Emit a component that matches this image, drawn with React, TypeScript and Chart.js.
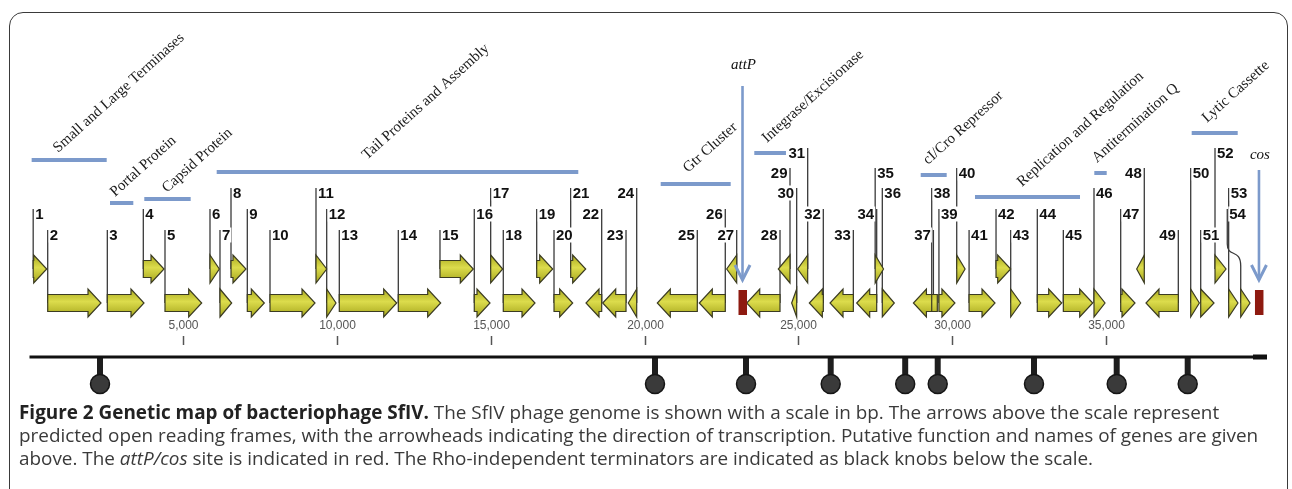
import React, { useEffect, useRef } from "react";
import { Chart, registerables } from "chart.js";
Chart.register(...registerables);

// ---------- DATA (bp positions) ----------
const GENE_IDS = [
  1, 2, 3, 4, 5, 6, 7, 8, 9, 10, 11, 12, 13, 14, 15, 16, 17, 18, 19, 20, 21, 22, 23, 24, 25, 26, 27,
  28, 29, 30, 31, 32, 33, 34, 35, 36, 37, 38, 39, 40, 41, 42, 43, 44, 45, 46, 47, 48, 49, 50, 51, 52, 53, 54,
];
const GENE_START = [
  120, 592, 2530, 3700, 4405, 5868, 6193, 6551, 7081, 7819, 9314, 9662, 10072, 11990, 13345, 14460, 14993,
  15403, 16489, 17052, 17594, 18092, 18635, 19467, 20410, 21775, 22666, 23317, 24344, 24778, 24973, 25352,
  26025, 26892, 27493, 27725, 28736, 29331, 29566, 30144, 30546, 31422, 31899, 32764, 33610, 34607, 35475,
  35995, 36297, 37751, 38076, 38541, 38985, 39377,
];
const GENE_END = [
  560, 2325, 3722, 4373, 5598, 6171, 6573, 7038, 7634, 9282, 9662, 9964, 11938, 13368, 14428, 14971, 15383,
  16434, 17009, 17659, 18082, 18602, 19393, 19740, 21710, 22620, 22991, 24399, 24724, 24941, 25299, 25807,
  26783, 27542, 27764, 28115, 29386, 29513, 30086, 30416, 31389, 31899, 32224, 33557, 34565, 34965, 35940,
  36242, 37348, 38031, 38509, 38899, 39287, 39679,
];
// 1 = forward, -1 = reverse, 0 = no arrowhead
const GENE_STRAND = [
  1, 1, 1, 1, 1, 1, 1, 1, 1, 1, 1, 1, 1, 1, 1, 1, 1, 1, 1, 1, 1, -1, -1, -1, -1, -1, -1, -1, -1, -1, -1, -1,
  -1, -1, 1, 1, -1, 0, 1, 1, 1, 1, 1, 1, 1, 1, 1, -1, -1, 1, 1, 1, 1, 1,
];
// 0 = upper track, 1 = lower track
const GENE_TRACK = [
  0, 1, 1, 0, 1, 0, 1, 0, 1, 1, 0, 1, 1, 1, 0, 1, 0, 1, 0, 1, 0, 1, 1, 1, 1, 1, 0, 1, 0, 1, 0, 1, 1, 1, 0, 1,
  1, 1, 1, 0, 1, 0, 1, 1, 1, 1, 1, 0, 1, 1, 1, 0, 1, 1,
];
// label tier (0 = highest ... 4 = lowest)
const GENE_TIER = [
  3, 4, 4, 3, 4, 3, 4, 2, 3, 4, 2, 3, 4, 4, 4, 3, 2, 4, 3, 4, 2, 3, 4, 2, 4, 3, 4, 4, 1, 2, 0, 3, 4, 3, 1, 2,
  4, 2, 3, 1, 4, 3, 4, 3, 4, 2, 3, 1, 4, 1, 4, 0, 2, 3,
];
// gene whose label sits away from the gene (curved leader)
const OFFSET_LABEL_GENE = 54;
const OFFSET_LABEL_BP = 38940;

const GROUP_NAMES = [
  "Small and Large Terminases",
  "Portal Protein",
  "Capsid Protein",
  "Tail Proteins and Assembly",
  "Gtr Cluster",
  "Integrase/Excisionase",
  "cI/Cro Repressor",
  "Replication and Regulation",
  "Antitermination Q",
  "Lytic Cassette",
];
const GROUP_START = [70, 2617, 3732, 6086, 20520, 23563, 28973, 30738, 34617, 37783];
const GROUP_END = [2510, 3375, 5240, 17841, 22796, 24593, 29818, 34152, 35020, 39279];
const GROUP_LABEL_BP = [927, 2779, 4470, 10972, 21408, 23976, 29209, 32267, 34705, 38282];

const SITE_NAMES = ["attP", "cos"];
const SITE_BP = [23180, 39970];

const TERMINATOR_BP = [2292, 20335, 23294, 26047, 28469, 29526, 32656, 35345, 37653];
const GENOME_LENGTH = 40231;
const TICK_VALUES = [5000, 10000, 15000, 20000, 25000, 30000, 35000];

// ---------- LAYOUT (pixels) ----------
const X_MIN = -959;
const X_MAX = 41044;
const TRACK_Y = [269, 303];
const TIER_Y = [153, 173, 193, 214, 235];
const GROUP_BAR_Y = [160, 203, 199, 172, 184, 153, 175, 197, 173, 133];
const GROUP_LABEL_Y = [153, 197, 193, 160, 173, 143, 165, 187, 163, 123];
const SITE_ARROW_TOP = [86, 170];
const SITE_LABEL_Y = [65, 155];
const AXIS_Y = 357;
const KNOB_Y = 384;
const HEAD_H = 14;
const BODY_H = 8.5;
const HEAD_LEN = 13;

const genePlugin = {
  id: "genemap",
  beforeDatasetsDraw(chart: any) {
    const ctx = chart.ctx;
    const xs = chart.scales.x;
    const ys = chart.scales.y;
    ctx.save();
    ctx.strokeStyle = "#1e1e1e";
    ctx.lineWidth = 6;
    TERMINATOR_BP.forEach((bp) => {
      const x = xs.getPixelForValue(bp);
      ctx.beginPath();
      ctx.moveTo(x, ys.getPixelForValue(AXIS_Y));
      ctx.lineTo(x, ys.getPixelForValue(KNOB_Y) - 4);
      ctx.stroke();
    });
    ctx.restore();
  },
  afterDatasetsDraw(chart: any) {
    const ctx = chart.ctx;
    const xs = chart.scales.x;
    const px = (bp: number) => xs.getPixelForValue(bp);
    ctx.save();

    // ticks
    ctx.strokeStyle = "#555";
    ctx.lineWidth = 1.5;
    ctx.fillStyle = "#555";
    ctx.font = '12px "Liberation Sans", Arial, sans-serif';
    ctx.textAlign = "center";
    ctx.textBaseline = "middle";
    TICK_VALUES.forEach((v) => {
      const x = Math.round(px(v)) + 0.5;
      ctx.beginPath();
      ctx.moveTo(x, 336);
      ctx.lineTo(x, 345);
      ctx.stroke();
      ctx.fillText(v.toLocaleString("en-US"), x, 326);
    });

    // leader lines
    ctx.strokeStyle = "#3a3a3a";
    ctx.lineWidth = 1.3;
    GENE_IDS.forEach((id, i) => {
      const cy = TRACK_Y[GENE_TRACK[i]];
      const top = TIER_Y[GENE_TIER[i]] - 5;
      const gx = GENE_STRAND[i] < 0 ? px(GENE_END[i]) : px(GENE_START[i]);
      ctx.beginPath();
      if (id === OFFSET_LABEL_GENE) {
        const lx = px(OFFSET_LABEL_BP);
        ctx.moveTo(lx, top);
        ctx.lineTo(lx, 244);
        ctx.bezierCurveTo(lx, 258, gx, 248, gx, 266);
        ctx.lineTo(gx, cy);
      } else {
        ctx.moveTo(gx, top);
        ctx.lineTo(gx, cy);
      }
      ctx.stroke();
    });

    // number labels with white boxes
    ctx.font = 'bold 15px "Liberation Sans", Arial, sans-serif';
    ctx.textBaseline = "middle";
    GENE_IDS.forEach((id, i) => {
      const ty = TIER_Y[GENE_TIER[i]];
      let lx = GENE_STRAND[i] < 0 ? px(GENE_END[i]) : px(GENE_START[i]);
      if (id === OFFSET_LABEL_GENE) lx = px(OFFSET_LABEL_BP);
      const txt = String(id);
      const w = ctx.measureText(txt).width;
      const left = GENE_STRAND[i] < 0;
      const tx = left ? lx - 2.5 - w : lx + 2;
      ctx.fillStyle = "#fff";
      ctx.fillRect(tx - 1, ty - 7.5, w + 2, 15);
      ctx.fillStyle = "#111";
      ctx.textAlign = "left";
      ctx.fillText(txt, tx, ty + 0.5);
    });

    // gene shapes
    GENE_IDS.forEach((_id, i) => {
      const cy = TRACK_Y[GENE_TRACK[i]];
      const x1 = px(GENE_START[i]);
      const x2 = px(GENE_END[i]);
      const s = GENE_STRAND[i];
      const len = x2 - x1;
      const head = Math.min(HEAD_LEN, len);
      ctx.beginPath();
      if (s === 0) {
        ctx.rect(x1, cy - BODY_H, len, BODY_H * 2);
      } else if (s > 0) {
        const hx = x2 - head;
        if (head >= len - 0.5) {
          ctx.moveTo(x1, cy - HEAD_H);
          ctx.lineTo(x2, cy);
          ctx.lineTo(x1, cy + HEAD_H);
        } else {
          ctx.moveTo(x1, cy - BODY_H);
          ctx.lineTo(hx, cy - BODY_H);
          ctx.lineTo(hx, cy - HEAD_H);
          ctx.lineTo(x2, cy);
          ctx.lineTo(hx, cy + HEAD_H);
          ctx.lineTo(hx, cy + BODY_H);
          ctx.lineTo(x1, cy + BODY_H);
        }
        ctx.closePath();
      } else {
        const hx = x1 + head;
        if (head >= len - 0.5) {
          ctx.moveTo(x2, cy - HEAD_H);
          ctx.lineTo(x1, cy);
          ctx.lineTo(x2, cy + HEAD_H);
        } else {
          ctx.moveTo(x2, cy - BODY_H);
          ctx.lineTo(hx, cy - BODY_H);
          ctx.lineTo(hx, cy - HEAD_H);
          ctx.lineTo(x1, cy);
          ctx.lineTo(hx, cy + HEAD_H);
          ctx.lineTo(hx, cy + BODY_H);
          ctx.lineTo(x2, cy + BODY_H);
        }
        ctx.closePath();
      }
      const g = ctx.createLinearGradient(0, cy - HEAD_H, 0, cy + HEAD_H);
      g.addColorStop(0, "#a9a91e");
      g.addColorStop(0.45, "#dcdc4c");
      g.addColorStop(1, "#a5a51c");
      ctx.fillStyle = g;
      ctx.fill();
      ctx.strokeStyle = "#3b3b22";
      ctx.lineWidth = 1.2;
      ctx.stroke();
    });

    // functional groups
    ctx.strokeStyle = "#7c9acb";
    ctx.lineWidth = 4;
    GROUP_NAMES.forEach((name, i) => {
      const y = GROUP_BAR_Y[i];
      ctx.beginPath();
      ctx.moveTo(px(GROUP_START[i]), y);
      ctx.lineTo(px(GROUP_END[i]), y);
      ctx.stroke();
      ctx.save();
      ctx.translate(px(GROUP_LABEL_BP[i]), GROUP_LABEL_Y[i]);
      ctx.rotate((-42 * Math.PI) / 180);
      ctx.font = '15px "Liberation Serif", "Times New Roman", serif';
      ctx.fillStyle = "#1a1a1a";
      ctx.textAlign = "left";
      ctx.textBaseline = "alphabetic";
      ctx.fillText(name, 0, 0);
      ctx.restore();
    });

    // attP / cos sites
    SITE_NAMES.forEach((name, i) => {
      const x = px(SITE_BP[i]);
      ctx.fillStyle = "#8e1a10";
      ctx.fillRect(x - 4, TRACK_Y[1] - 13, 8.5, 25);
      ctx.strokeStyle = "#7c9acb";
      ctx.lineWidth = 2.6;
      ctx.beginPath();
      ctx.moveTo(x, SITE_ARROW_TOP[i]);
      ctx.lineTo(x, 280);
      ctx.stroke();
      ctx.lineWidth = 3;
      ctx.beginPath();
      ctx.moveTo(x - 7.5, 265);
      ctx.lineTo(x, 280);
      ctx.lineTo(x + 7.5, 265);
      ctx.stroke();
      ctx.font = 'italic 15px "Liberation Serif", "Times New Roman", serif';
      ctx.fillStyle = "#111";
      ctx.textAlign = "center";
      ctx.textBaseline = "middle";
      ctx.fillText(name, x + 1, SITE_LABEL_Y[i]);
    });

    ctx.restore();
  },
};

export default function App() {
  const ref = useRef<HTMLCanvasElement>(null);
  useEffect(() => {
    const chart = new Chart(ref.current as HTMLCanvasElement, {
      type: "scatter",
      data: {
        datasets: [
          {
            type: "line",
            data: [
              { x: 0, y: AXIS_Y },
              { x: GENOME_LENGTH, y: AXIS_Y },
            ],
            borderColor: "#111",
            borderWidth: 3,
            pointRadius: 0,
          } as any,
          {
            type: "line",
            data: [
              { x: GENOME_LENGTH - 455, y: AXIS_Y },
              { x: GENOME_LENGTH, y: AXIS_Y },
            ],
            borderColor: "#111",
            borderWidth: 5,
            pointRadius: 0,
          } as any,
          {
            type: "scatter",
            data: TERMINATOR_BP.map((bp) => ({ x: bp, y: KNOB_Y })),
            pointRadius: 9.5,
            backgroundColor: "#3a3a3a",
            borderColor: "#151515",
            borderWidth: 1.5,
          } as any,
        ],
      },
      options: {
        animation: false,
        responsive: false,
        events: [],
        layout: { padding: 0, autoPadding: false },
        plugins: { legend: { display: false }, tooltip: { enabled: false } },
        scales: {
          x: { type: "linear", min: X_MIN, max: X_MAX, display: false },
          y: { type: "linear", min: 0, max: 400, reverse: true, display: false },
        },
      },
      plugins: [genePlugin],
    });
    return () => chart.destroy();
  }, []);

  return (
    <div
      style={{
        position: "fixed",
        left: 0,
        top: 0,
        width: 1292,
        height: 489,
        overflow: "hidden",
        background: "#fff",
      }}
    >
      <div
        style={{
          position: "absolute",
          left: 9,
          top: 12,
          width: 1279,
          height: 540,
          border: "1.5px solid #3a3a3a",
          borderRadius: 14,
          boxSizing: "border-box",
        }}
      />
      <canvas
        ref={ref}
        width={1292}
        height={400}
        style={{ position: "absolute", left: 0, top: 0, width: 1292, height: 400 }}
      />
      <div
        style={{
          position: "absolute",
          left: 19,
          top: 401,
          fontFamily: '"Open Sans", "Noto Sans", sans-serif',
          fontSize: 18.9,
          lineHeight: "23px",
          color: "#3a3a3a",
          whiteSpace: "nowrap",
        }}
      >
        <div>
          <b style={{ color: "#222" }}>Figure 2 Genetic map of bacteriophage SfIV.</b> The SfIV phage genome is
          shown with a scale in bp. The arrows above the scale represent
        </div>
        <div>
          predicted open reading frames, with the arrowheads indicating the direction of transcription. Putative
          function and names of genes are given
        </div>
        <div>
          above. The <i>attP/cos</i> site is indicated in red. The Rho-independent terminators are indicated as
          black knobs below the scale.
        </div>
      </div>
    </div>
  );
}
